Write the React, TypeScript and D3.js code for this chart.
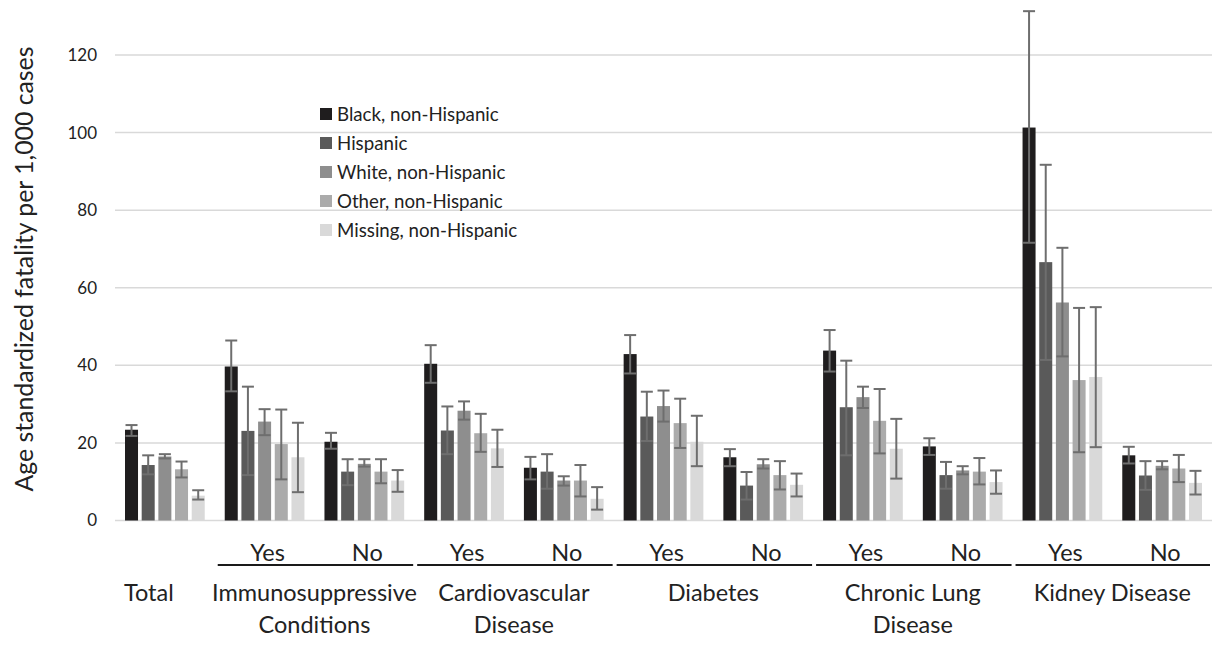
import * as d3 from "d3";

// category slots along the x axis
const groupKeys = ["Total", "ImmYes", "ImmNo", "CvdYes", "CvdNo", "DiabYes", "DiabNo", "LungYes", "LungNo", "KidYes", "KidNo"];
const subLabels = ["", "Yes", "No", "Yes", "No", "Yes", "No", "Yes", "No", "Yes", "No"];
const conditionLabels = [
  ["Immunosuppressive", "Conditions"],
  ["Cardiovascular", "Disease"],
  ["Diabetes"],
  ["Chronic Lung", "Disease"],
  ["Kidney Disease"],
];
const yTicks = [0, 20, 40, 60, 80, 100, 120];

const seriesNames = ["Black, non-Hispanic", "Hispanic", "White, non-Hispanic", "Other, non-Hispanic", "Missing, non-Hispanic"];
const seriesColors = ["#1f1d1e", "#5a5a5a", "#8e8e8e", "#ababab", "#d9d9d9"];

const black = [23.4, 39.7, 20.3, 40.4, 13.6, 42.9, 16.3, 43.8, 19.1, 101.3, 16.8];
const blackLo = [21.8, 33.3, 18.5, 35.5, 10.6, 37.9, 14.0, 38.4, 16.9, 71.6, 14.7];
const blackHi = [24.6, 46.4, 22.6, 45.2, 16.4, 47.8, 18.4, 49.1, 21.2, 131.3, 19.0];

const hispanic = [14.3, 23.1, 12.6, 23.2, 12.6, 26.8, 9.0, 29.2, 11.7, 66.6, 11.6];
const hispanicLo = [11.9, 11.7, 9.1, 17.1, 8.2, 20.5, 5.4, 16.8, 8.2, 41.4, 7.9];
const hispanicHi = [16.8, 34.5, 15.8, 29.4, 17.1, 33.2, 12.5, 41.2, 15.1, 91.7, 15.3];

const white = [16.5, 25.5, 14.6, 28.3, 10.3, 29.5, 14.5, 31.8, 12.9, 56.2, 14.1];
const whiteLo = [16.0, 22.0, 13.9, 26.0, 9.0, 25.5, 13.4, 29.0, 11.9, 42.3, 13.2];
const whiteHi = [17.1, 28.7, 15.8, 30.7, 11.4, 33.5, 15.8, 34.5, 14.0, 70.3, 15.3];

const other = [13.2, 19.7, 12.6, 22.5, 10.3, 25.1, 11.7, 25.7, 12.6, 36.2, 13.4];
const otherLo = [11.1, 10.6, 9.6, 17.7, 6.2, 18.7, 8.0, 17.3, 9.3, 17.6, 9.9];
const otherHi = [15.2, 28.6, 15.8, 27.5, 14.3, 31.4, 15.3, 33.9, 16.1, 54.8, 16.9];

const missing = [6.4, 16.3, 10.3, 18.6, 5.6, 20.3, 9.2, 18.5, 9.9, 37.0, 9.7];
const missingLo = [5.4, 7.3, 7.4, 13.8, 2.8, 14.0, 6.2, 10.8, 6.9, 18.9, 6.7];
const missingHi = [7.8, 25.2, 13.0, 23.4, 8.6, 27.0, 12.1, 26.2, 12.9, 55.0, 12.8];

const seriesValues = [black, hispanic, white, other, missing];
const seriesLo = [blackLo, hispanicLo, whiteLo, otherLo, missingLo];
const seriesHi = [blackHi, hispanicHi, whiteHi, otherHi, missingHi];

const W = 1227;
const H = 664;
const FONT = "Lato, 'Noto Sans', sans-serif";

export default function App() {
  const x = d3.scaleBand().domain(groupKeys).range([115, 1212]);
  const inner = d3
    .scaleBand<number>()
    .domain(d3.range(seriesNames.length))
    .range([0, x.bandwidth()])
    .paddingInner(0.22)
    .paddingOuter(0.6);
  const y = d3.scaleLinear().domain([0, 120]).range([520.5, 55]);
  const bw = inner.bandwidth();
  const cap = 6;

  return (
    <svg width={W} height={H} style={{ position: "absolute", left: 0, top: 0, background: "#fff" }} fontFamily={FONT}>
      {/* gridlines */}
      {yTicks.map((t) => (
        <line key={t} x1={115} x2={1212} y1={y(t)} y2={y(t)} stroke="#d9d9d9" strokeWidth={1.5} />
      ))}
      {/* y tick labels */}
      {yTicks.map((t) => (
        <text key={"l" + t} x={97} y={y(t)} dy="0.35em" textAnchor="end" fontSize={17} fill="#222">
          {t}
        </text>
      ))}
      <text
        transform={`translate(24,${269}) rotate(-90)`}
        textAnchor="middle"
        dy="0.35em"
        fontSize={24.8}
        fill="#222"
      >
        Age standardized fatality per 1,000 cases
      </text>

      {/* bars */}
      {seriesValues.map((vals, s) => (
        <g key={s}>
          {vals.map((v, i) => (
            <rect
              key={i}
              x={x(groupKeys[i])! + inner(s)!}
              y={y(v)}
              width={bw}
              height={y(0) - y(v)}
              fill={seriesColors[s]}
            />
          ))}
        </g>
      ))}

      {/* error bars */}
      {seriesValues.map((vals, s) => (
        <g key={"e" + s} stroke="#6e6e6e" strokeWidth={2}>
          {vals.map((_, i) => {
            const cx = x(groupKeys[i])! + inner(s)! + bw / 2;
            const lo = y(seriesLo[s][i]);
            const hi = y(seriesHi[s][i]);
            return (
              <g key={i}>
                <line x1={cx} x2={cx} y1={lo} y2={hi} />
                <line x1={cx - cap} x2={cx + cap} y1={lo} y2={lo} />
                <line x1={cx - cap} x2={cx + cap} y1={hi} y2={hi} />
              </g>
            );
          })}
        </g>
      ))}

      {/* Yes / No sub labels */}
      {subLabels.map((lab, i) =>
        lab ? (
          <text key={"s" + i} x={x(groupKeys[i])! + x.bandwidth() / 2 + 3} y={561} textAnchor="middle" fontSize={23.5} fill="#222">
            {lab}
          </text>
        ) : null
      )}

      {/* underline brackets and condition labels */}
      {conditionLabels.map((lines, k) => {
        const g0 = groupKeys[1 + k * 2];
        const g1 = groupKeys[2 + k * 2];
        const left = x(g0)! + 3;
        const right = Math.min(x(g1)! + x.bandwidth() - 1, 1210);
        const mid = (x(g0)! + x(g1)! + x.bandwidth()) / 2;
        return (
          <g key={"c" + k}>
            <line x1={left} x2={right} y1={565} y2={565} stroke="#1a1a1a" strokeWidth={2} />
            {lines.map((ln, j) => (
              <text key={j} x={mid} y={601 + j * 32} textAnchor="middle" fontSize={23.5} fill="#222">
                {ln}
              </text>
            ))}
          </g>
        );
      })}
      <text x={x("Total")! + x.bandwidth() / 2 - 16} y={601} textAnchor="middle" fontSize={23.5} fill="#222">
        Total
      </text>

      {/* legend */}
      {seriesNames.map((name, s) => (
        <g key={"lg" + s} transform={`translate(320,${114 + s * 29})`}>
          <rect x={0} y={-6} width={12} height={12} fill={seriesColors[s]} />
          <text x={17} y={0} dy="0.35em" fontSize={18.7} fill="#222">
            {name}
          </text>
        </g>
      ))}
    </svg>
  );
}
